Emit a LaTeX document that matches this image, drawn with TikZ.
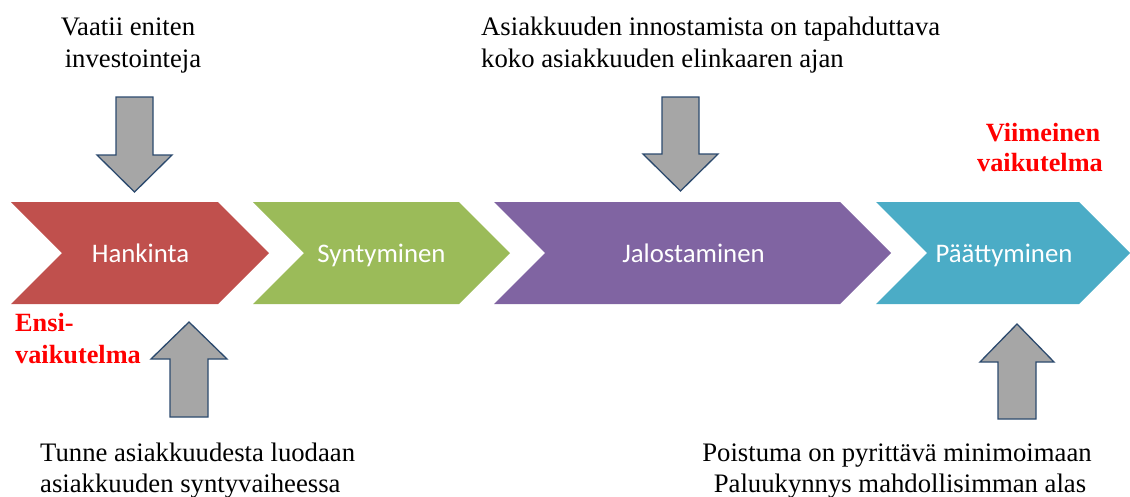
\documentclass[tikz,border=0pt]{standalone}
\usepackage{fontspec}
\setmainfont{Liberation Serif}
\newfontfamily\stagefont{Carlito}
\definecolor{stageRed}{HTML}{C0504D}
\definecolor{stageGreen}{HTML}{9BBB59}
\definecolor{stagePurple}{HTML}{8064A2}
\definecolor{stageTeal}{HTML}{4BACC6}
\definecolor{arrowFill}{HTML}{A6A6A6}
\definecolor{arrowLine}{HTML}{2C4A6E}
\definecolor{noteRed}{HTML}{FF0000}
\begin{document}
\begin{tikzpicture}[x=1pt,y=-1pt,
  stagelabel/.style={font=\stagefont\fontsize{26.8}{30}\selectfont, text=white, inner sep=0pt, anchor=base},
  note/.style={font=\fontsize{26.7}{32}\selectfont, inner sep=0pt, anchor=base},
  rednote/.style={font=\bfseries\fontsize{26.3}{30}\selectfont, text=noteRed, inner sep=0pt, anchor=base},
  blockarrow/.style={fill=arrowFill, draw=arrowLine, line width=1.3pt, line join=miter}]
\useasboundingbox (0,0) rectangle (1130,496);

% the four stages of the customer life cycle
\fill[stageRed]    (11,202) -- (218,202) -- (269,253) -- (218,304) -- (11,304) -- (62,253) -- cycle;
\fill[stageGreen]  (253,202) -- (459,202) -- (510,253) -- (459,304) -- (253,304) -- (304,253) -- cycle;
\fill[stagePurple] (494,202) -- (840,202) -- (891,253) -- (840,304) -- (494,304) -- (545,253) -- cycle;
\fill[stageTeal]   (876,202) -- (1079,202) -- (1130,253) -- (1079,304) -- (876,304) -- (927,253) -- cycle;

\node[stagelabel] (hankinta) at (140.5,262) {Hankinta};
\node[stagelabel] (syntyminen) at (381.5,262) {Syntyminen};
\node[stagelabel] (jalostaminen) at (693.5,262) {Jalostaminen};
\node[stagelabel] (paattyminen) at (1004,262) {Päättyminen};

% block arrows pointing at the stages
\draw[blockarrow] (116,97) -- (153,97) -- (153,155) -- (172,155) -- (134.5,192) -- (97,155) -- (116,155) -- cycle;
\draw[blockarrow] (662,97) -- (699,97) -- (699,154) -- (718,154) -- (680.5,191) -- (643,154) -- (662,154) -- cycle;
\draw[blockarrow] (170,417) -- (208,417) -- (208,359) -- (227,359) -- (189,322) -- (151,359) -- (170,359) -- cycle;
\draw[blockarrow] (998,419) -- (1036,419) -- (1036,362) -- (1054,362) -- (1017,324) -- (980,362) -- (998,362) -- cycle;

% notes above the stages
\node[note] (invA) at (128,35) {Vaatii eniten};
\node[note] (invB) at (133,67) {investointeja};
\node[note, anchor=base west] (innoA) at (481,35) {Asiakkuuden innostamista on tapahduttava};
\node[note, anchor=base west] (innoB) at (481,67) {koko asiakkuuden elinkaaren ajan};

% notes below the stages
\node[note, anchor=base west] (tunneA) at (40,461) {Tunne asiakkuudesta luodaan};
\node[note, anchor=base west] (tunneB) at (40,492) {asiakkuuden syntyvaiheessa};
\node[note] (poisA) at (897,461) {Poistuma on pyrittävä minimoimaan};
\node[note] (poisB) at (900,492) {Paluukynnys mahdollisimman alas};

% first and last impression
\node[rednote, anchor=base west] (ensiA) at (15,331) {Ensi-};
\node[rednote, anchor=base west] (ensiB) at (15,363) {vaikutelma};
\node[rednote] (viimA) at (1043,141) {Viimeinen};
\node[rednote] (viimB) at (1040,171) {vaikutelma};
\end{tikzpicture}
\end{document}
